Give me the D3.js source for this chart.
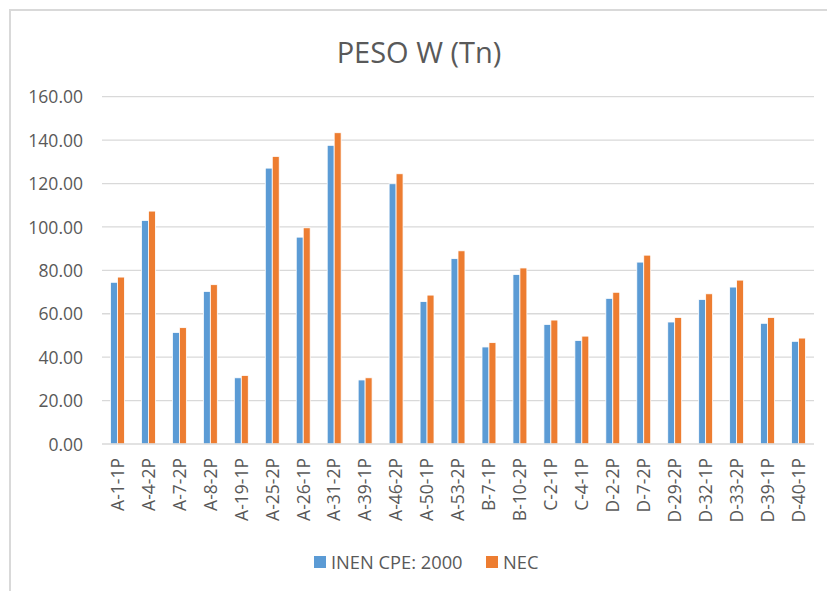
<!DOCTYPE html>
<html>
<head>
<meta charset="utf-8">
<script src="https://cdn.jsdelivr.net/npm/d3@7"></script>
<style>
  html, body { margin: 0; padding: 0; background: #fff; }
  svg { display: block; font-family: "Open Sans", "Noto Sans", sans-serif; }
</style>
</head>
<body>
<svg id="chart" width="827" height="591"></svg>
<script>
// Structural weight per frame, two code criteria
const categories = ["A-1-1P","A-4-2P","A-7-2P","A-8-2P","A-19-1P","A-25-2P","A-26-1P","A-31-2P",
  "A-39-1P","A-46-2P","A-50-1P","A-53-2P","B-7-1P","B-10-2P","C-2-1P","C-4-1P","D-2-2P","D-7-2P",
  "D-29-2P","D-32-1P","D-33-2P","D-39-1P","D-40-1P"];
const seriesNames = ["INEN CPE: 2000", "NEC"];
const inenValues = [74.5,103.0,51.4,70.3,30.5,127.1,95.3,137.6,29.5,119.9,65.6,85.4,44.7,78.1,55.1,47.7,67.1,83.8,56.2,66.6,72.3,55.6,47.3];
const necValues  = [76.9,107.3,53.6,73.4,31.6,132.5,99.6,143.4,30.5,124.5,68.6,89.0,46.7,81.1,57.1,49.7,69.9,87.0,58.3,69.2,75.5,58.3,48.8];
const yTicks = [0,20,40,60,80,100,120,140,160];
const colors = ["#5b9bd5", "#ed7d31"];
const title = "PESO W (Tn)";

const svg = d3.select("#chart");

// chart-area frame
svg.append("rect")
  .attr("x", 10).attr("y", 10).attr("width", 900).attr("height", 700)
  .attr("fill", "#fff").attr("stroke", "#d9d9d9").attr("stroke-width", 2);

const plot = { left: 102, right: 814, top: 96.7, bottom: 444 };

const x = d3.scaleBand().domain(categories).range([plot.left, plot.right]).paddingInner(0.55).paddingOuter(0.275);
const xs = d3.scaleBand().domain(seriesNames).range([0, x.bandwidth()]).padding(0);
const y = d3.scaleLinear().domain([0, 160]).range([plot.bottom, plot.top]);

// gridlines
svg.append("g").selectAll("line").data(yTicks.filter(d => d > 0)).join("line")
  .attr("x1", plot.left).attr("x2", plot.right)
  .attr("y1", d => y(d)).attr("y2", d => y(d))
  .attr("stroke", "#d9d9d9").attr("stroke-width", 1.3);

// y axis labels
const yAxis = d3.axisLeft(y).tickValues(yTicks).tickFormat(d3.format(".2f")).tickSize(0).tickPadding(0);
const yg = svg.append("g").attr("transform", `translate(83,0)`).call(yAxis);
yg.select(".domain").remove();
yg.selectAll("text").attr("fill", "#595959").attr("font-size", 17.5).attr("dy", "0.35em")
  .attr("font-family", "'Open Sans', sans-serif");

// bars
const rows = categories.map((c, i) => ({ cat: c, vals: [inenValues[i], necValues[i]] }));
const groups = svg.append("g").selectAll("g").data(rows).join("g")
  .attr("transform", d => `translate(${x(d.cat)},0)`);
groups.selectAll("rect").data(d => d.vals.map((v, k) => ({ v, k }))).join("rect")
  .attr("x", d => xs(seriesNames[d.k]))
  .attr("width", xs.bandwidth())
  .attr("y", d => y(d.v))
  .attr("height", d => y(0) - y(d.v))
  .attr("fill", d => colors[d.k])
  .attr("stroke", "#fff").attr("stroke-width", 0.8);

// baseline
svg.append("line")
  .attr("x1", plot.left).attr("x2", plot.right)
  .attr("y1", plot.bottom).attr("y2", plot.bottom)
  .attr("stroke", "#d9d9d9").attr("stroke-width", 1.3);

// category labels, rotated
const xAxis = d3.axisBottom(x).tickSize(0).tickPadding(0);
const xg = svg.append("g").attr("transform", `translate(0,${plot.bottom})`).call(xAxis);
xg.select(".domain").remove();
xg.selectAll("text")
  .attr("fill", "#595959").attr("font-size", 17.5).attr("font-family", "'Open Sans', sans-serif")
  .attr("transform", "rotate(-90)")
  .attr("text-anchor", "end")
  .attr("x", -14).attr("y", 0).attr("dy", "0.36em");

// title
svg.append("text").attr("x", 419).attr("y", 63).attr("text-anchor", "middle")
  .attr("fill", "#595959").attr("font-size", 29).text(title);

// legend
const legendItems = [{ name: seriesNames[0], x: 314 }, { name: seriesNames[1], x: 486 }];
const lg = svg.append("g").selectAll("g").data(legendItems).join("g")
  .attr("transform", d => `translate(${d.x},556)`);
lg.append("rect").attr("width", 12).attr("height", 12).attr("fill", (d, i) => colors[i]);
lg.append("text").attr("x", 17).attr("y", 12.5).attr("fill", "#595959").attr("font-size", 18.3)
  .text(d => d.name);
</script>
</body>
</html>
